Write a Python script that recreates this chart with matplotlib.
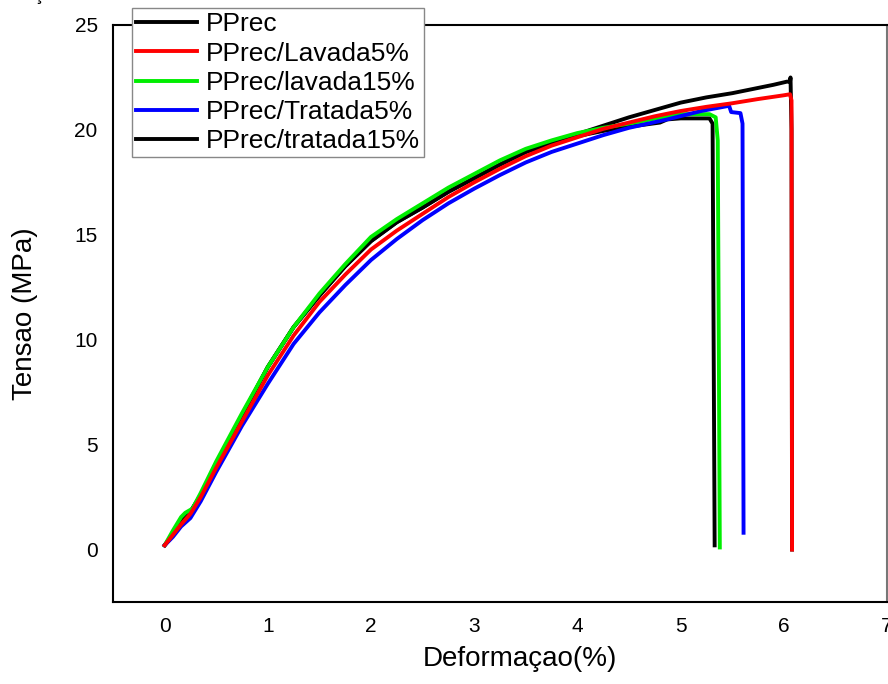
import matplotlib
matplotlib.use("Agg")
import matplotlib.pyplot as plt

plt.rcParams['font.family'] = ['Liberation Sans', 'DejaVu Sans']

# curvas tensao x deformacao
x_pprec = [0, 0.08, 0.16, 0.25, 0.35, 0.5, 0.75, 1.0, 1.25, 1.5, 1.75, 2.0, 2.25, 2.5, 2.75, 3.0, 3.25, 3.5, 3.75, 4.0, 4.25, 4.5, 4.8, 4.87, 5.0, 5.28, 5.31, 5.32, 5.33]
y_pprec = [0.2, 0.7, 1.3, 1.8, 2.6, 4.1, 6.4, 8.7, 10.6, 12.1, 13.5, 14.7, 15.6, 16.3, 17.05, 17.7, 18.35, 18.95, 19.35, 19.7, 19.95, 20.15, 20.35, 20.5, 20.55, 20.55, 20.3, 10.0, 0.2]

x_lav5 = [0, 0.08, 0.16, 0.25, 0.35, 0.5, 0.75, 1.0, 1.25, 1.5, 1.75, 2.0, 2.25, 2.5, 2.75, 3.0, 3.25, 3.5, 3.75, 4.0, 4.25, 4.5, 4.75, 5.0, 5.25, 5.5, 5.75, 6.0, 6.06, 6.075, 6.08]
y_lav5 = [0.2, 0.7, 1.2, 1.7, 2.5, 3.9, 6.1, 8.3, 10.2, 11.8, 13.1, 14.3, 15.2, 16.0, 16.8, 17.5, 18.15, 18.75, 19.25, 19.65, 20.05, 20.35, 20.65, 20.9, 21.1, 21.27, 21.47, 21.65, 21.7, 21.4, 0.0]

x_lav15 = [0, 0.08, 0.16, 0.2, 0.27, 0.35, 0.5, 0.75, 1.0, 1.25, 1.5, 1.75, 2.0, 2.25, 2.5, 2.75, 3.0, 3.25, 3.5, 3.75, 4.0, 4.25, 4.5, 4.87, 5.0, 5.28, 5.34, 5.36, 5.37, 5.38]
y_lav15 = [0.2, 0.9, 1.55, 1.75, 1.95, 2.7, 4.2, 6.5, 8.7, 10.6, 12.2, 13.6, 14.9, 15.75, 16.5, 17.25, 17.9, 18.55, 19.1, 19.5, 19.85, 20.1, 20.3, 20.65, 20.75, 20.75, 20.6, 19.5, 10.0, 0.1]

x_trat5 = [0, 0.08, 0.16, 0.25, 0.35, 0.5, 0.75, 1.0, 1.25, 1.5, 1.75, 2.0, 2.25, 2.5, 2.75, 3.0, 3.25, 3.5, 3.75, 4.0, 4.25, 4.5, 4.87, 5.2, 5.47, 5.49, 5.58, 5.6, 5.61]
y_trat5 = [0.2, 0.6, 1.1, 1.5, 2.3, 3.7, 5.9, 7.9, 9.8, 11.3, 12.6, 13.8, 14.8, 15.7, 16.5, 17.2, 17.85, 18.45, 18.95, 19.35, 19.75, 20.1, 20.5, 20.9, 21.15, 20.85, 20.8, 20.3, 0.8]

x_trat15 = [0, 0.08, 0.16, 0.25, 0.35, 0.5, 0.75, 1.0, 1.25, 1.5, 1.75, 2.0, 2.25, 2.5, 2.75, 3.0, 3.25, 3.5, 3.75, 4.0, 4.25, 4.5, 4.75, 5.0, 5.25, 5.5, 5.75, 5.9, 6.03, 6.06, 6.065, 6.075, 6.08]
y_trat15 = [0.2, 0.7, 1.3, 1.8, 2.6, 4.1, 6.4, 8.7, 10.6, 12.1, 13.5, 14.7, 15.6, 16.3, 17.05, 17.7, 18.35, 18.95, 19.4, 19.8, 20.2, 20.6, 20.95, 21.3, 21.55, 21.75, 22.0, 22.15, 22.3, 22.3, 22.5, 20.0, 0.0]

labels = ['PPrec', 'PPrec/Lavada5%', 'PPrec/lavada15%', 'PPrec/Tratada5%', 'PPrec/tratada15%']
cores = ['black', '#ff0000', '#00ee00', '#0000ff', 'black']

xticks = [0, 1, 2, 3, 4, 5, 6, 7]
yticks = [0, 5, 10, 15, 20, 25]

fig = plt.figure(figsize=(8.88, 6.84), dpi=100)
ax = fig.add_axes([113/888, 1 - 602/684, 774/888, 577/684])

series = [(x_pprec, y_pprec), (x_lav5, y_lav5), (x_lav15, y_lav15), (x_trat5, y_trat5), (x_trat15, y_trat15)]
zs = [2, 4, 2.5, 3, 2]
for (xs, ys), lab, c, z in zip(series, labels, cores, zs):
    ax.plot(xs, ys, color=c, lw=2.8, label=lab, zorder=z, solid_joinstyle='round')

ax.set_xlim(-0.5, 7)
ax.set_ylim(-2.5, 25)
ax.set_xticks(xticks)
ax.set_yticks(yticks)
ax.tick_params(length=0, labelsize=15)
ax.tick_params(axis='x', pad=11)
ax.tick_params(axis='y', pad=11)
for s in ax.spines.values():
    s.set_linewidth(1.5)
ax.spines['right'].set_color('#777777')

ax.set_xlabel('Deformaçao(%)', fontsize=20)
ax.set_ylabel('Tensao (MPa)', fontsize=20)
ax.xaxis.set_label_coords(0.526, -0.076)
ax.yaxis.set_label_coords(-0.097, 0.5)

leg = ax.legend(loc='upper left', bbox_to_anchor=(0.0245, 1.029), borderaxespad=0,
                fontsize=19, fancybox=False, framealpha=1, edgecolor='#888888',
                handlelength=2.3, handletextpad=0.35, labelspacing=0.2, borderpad=0.15)
leg.get_frame().set_linewidth(1.0)
leg.set_zorder(10)

fig.text(38/888, 1.0, 'ç', fontsize=14, va='baseline', ha='center')

fig.savefig('out.png', dpi=100)
